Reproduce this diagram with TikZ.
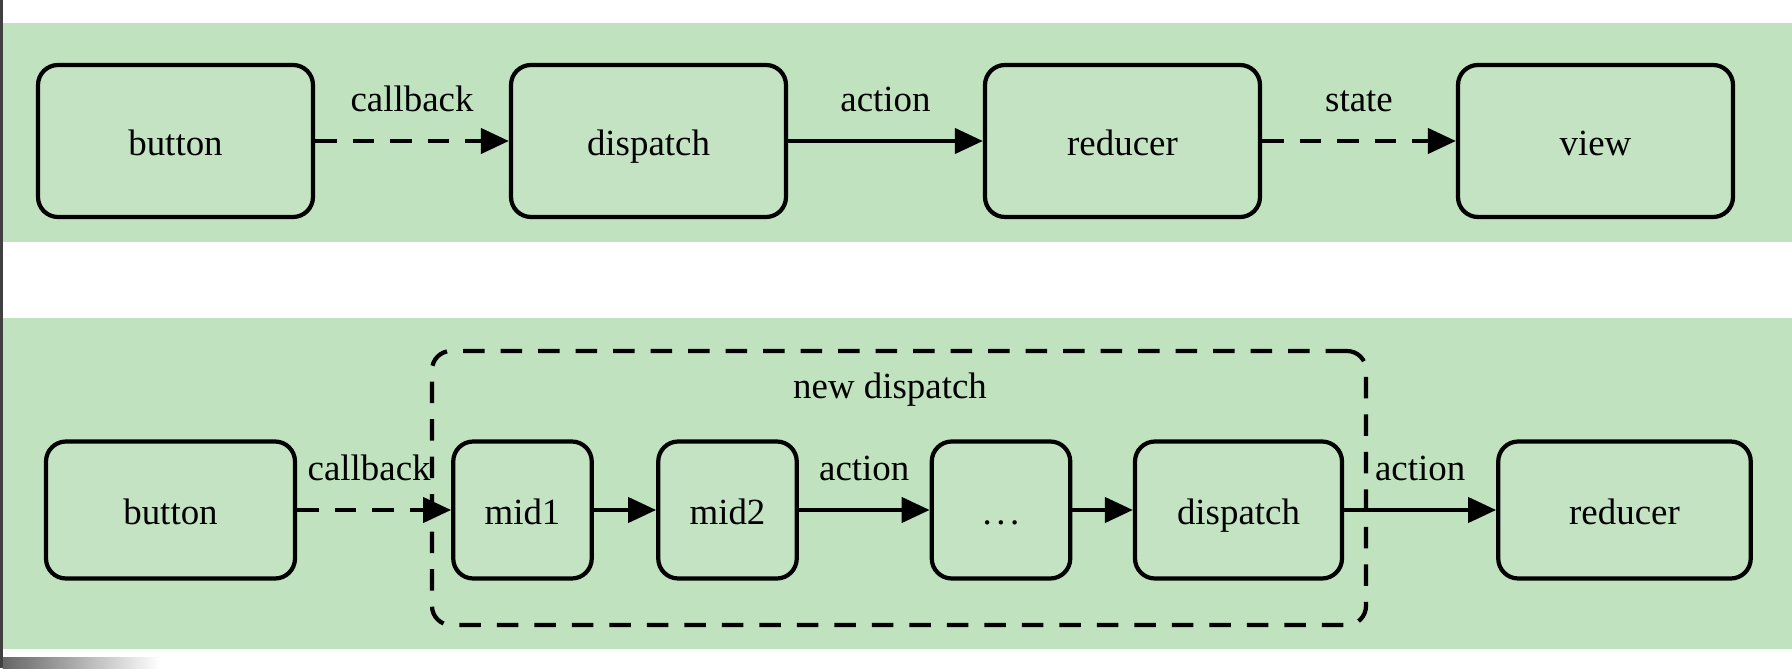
\documentclass[tikz,border=0pt]{standalone}
\usepackage{fontspec}
\setmainfont{Liberation Serif}
\usetikzlibrary{arrows.meta}
\definecolor{bandgreen}{RGB}{193,226,191}
\definecolor{boxgreen}{RGB}{196,227,194}

\begin{document}
\begin{tikzpicture}[
    font=\fontsize{21}{25}\selectfont,
    box/.style={draw, line width=2.4pt, rounded corners=0.4cm, fill=boxgreen,
        minimum width=5.5cm, minimum height=3.04cm, inner sep=0pt,
        text height=0.68cm, text depth=0.1cm},
    lowbox/.style={box, minimum height=2.74cm},
    group/.style={draw, line width=2.4pt, rounded corners=0.38cm,
        dash pattern=on 0.43cm off 0.32cm, minimum width=18.68cm,
        minimum height=5.48cm, inner sep=0pt},
    flow/.style={line width=2.4pt, -{Triangle[length=0.56cm,width=0.5cm]}},
    weak/.style={flow, dash pattern=on 0.43cm off 0.32cm},
    lbl/.style={midway, anchor=base, yshift=0.58cm, inner sep=0pt}
]
    \useasboundingbox (0,0) rectangle (35.84,13.36);
    \fill[white] (0,0) rectangle (35.84,13.36);
    \fill[bandgreen] (0.06,8.52) rectangle (35.84,12.9);
    \fill[bandgreen] (0.06,0.38) rectangle (35.84,7.0);
    \fill[black!75] (0,0) rectangle (0.06,13.36);
    \shade[left color=black!60, right color=white] (0.06,0) rectangle (3.2,0.22);

    % plain flow
    \node[box] (button) at (3.51,10.54) {button};
    \node[box] (dispatch) at (12.97,10.54) {dispatch};
    \node[box] (reducer) at (22.45,10.54) {reducer};
    \node[box] (view) at (31.91,10.54) {view};

    \draw[weak] (button) -- (dispatch) node[lbl] {callback};
    \draw[flow] (dispatch) -- (reducer) node[lbl] {action};
    \draw[weak] (reducer) -- (view) node[lbl] {state};

    % with middleware
    \node[group] (newdisp) at (17.98,3.6) {};
    \node[anchor=base] (newlbl) at (17.8,5.39) {new dispatch};

    \node[lowbox, minimum width=4.98cm] (button2) at (3.41,3.16) {button};
    \node[lowbox, minimum width=2.77cm] (mid1) at (10.45,3.16) {mid1};
    \node[lowbox, minimum width=2.77cm] (mid2) at (14.55,3.16) {mid2};
    \node[lowbox, minimum width=2.77cm] (more) at (20.02,3.16) {.\kern0.12em.\kern0.12em.};
    \node[lowbox, minimum width=4.14cm] (dispatch2) at (24.77,3.16) {dispatch};
    \node[lowbox, minimum width=5.05cm] (reducer2) at (32.49,3.16) {reducer};

    \draw[weak] (button2) -- (mid1) node[lbl, xshift=-0.1cm] {callback};
    \draw[flow] (mid1) -- (mid2);
    \draw[flow] (mid2) -- (more) node[lbl] {action};
    \draw[flow] (more) -- (dispatch2);
    \draw[flow] (dispatch2) -- (reducer2) node[lbl] {action};
\end{tikzpicture}
\end{document}
